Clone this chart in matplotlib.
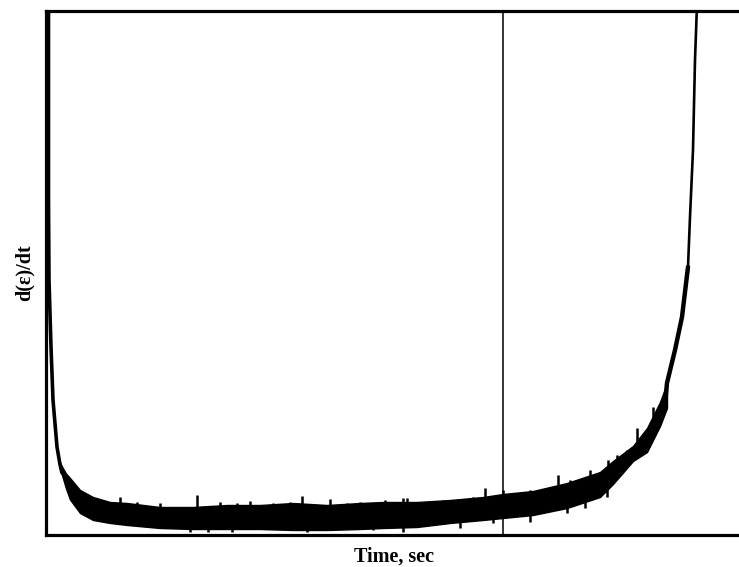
import numpy as np
import matplotlib
matplotlib.use("Agg")
import matplotlib.pyplot as plt

plt.rcParams["font.family"] = ["Liberation Serif", "DejaVu Serif"]
plt.rcParams["font.weight"] = "bold"

# --- data (time in s, rate in arbitrary units) ---
# primary creep: steep initial drop
t_primary = [2.5, 2.5, 3, 5, 7, 11, 14, 16]
r_primary = [5.30, 3.345, 2.545, 1.875, 1.345, 0.875, 0.70, 0.615]

# secondary / early tertiary: noisy band (upper and lower envelope)
t_band = [14, 17, 20, 24, 34, 47, 64, 81, 114, 147, 181, 214, 247, 281, 314,
          337, 371, 404, 437, 457, 487, 521, 554, 567, 587, 601, 614, 621]
r_band_hi = [0.72, 0.66, 0.61, 0.565, 0.445, 0.375, 0.325, 0.315, 0.275,
             0.275, 0.295, 0.295, 0.315, 0.295, 0.315, 0.325, 0.325, 0.345,
             0.375, 0.405, 0.435, 0.515, 0.625, 0.735, 0.885, 1.065, 1.325,
             1.515]
r_band_lo = [0.66, 0.56, 0.46, 0.35, 0.215, 0.145, 0.115, 0.095, 0.065,
             0.055, 0.055, 0.055, 0.045, 0.045, 0.055, 0.065, 0.075, 0.115,
             0.145, 0.165, 0.195, 0.265, 0.375, 0.505, 0.735, 0.825, 1.085,
             1.265]

# tertiary creep: final run-away (lower, still noisy part and thin top part)
t_tert_low = [619, 621, 629, 636, 642]
r_tert_low = [1.30, 1.515, 1.845, 2.175, 2.675]
t_tert_top = [642, 644, 647, 649, 651]
r_tert_top = [2.675, 3.175, 3.845, 4.745, 5.30]

# visible noise spikes (time, tip value)
t_spike_up = [74, 91, 114, 151, 174, 191, 204, 227, 244, 256, 284, 301, 314,
              339, 357, 361, 397, 427, 439, 457, 484, 512, 524, 544, 562, 571,
              581, 591, 607]
r_spike_up = [0.375, 0.325, 0.315, 0.395, 0.325, 0.315, 0.335, 0.315, 0.325,
              0.385, 0.355, 0.315, 0.325, 0.345, 0.365, 0.365, 0.345, 0.375,
              0.465, 0.445, 0.445, 0.595, 0.545, 0.645, 0.745, 0.795, 0.845,
              1.065, 1.275]
t_spike_dn = [144, 162, 186, 261, 327, 357, 414, 447, 484, 521, 539, 561]
r_spike_dn = [0.025, 0.025, 0.025, 0.025, 0.045, 0.025, 0.065, 0.115, 0.125,
              0.215, 0.265, 0.375]

t_marker = 457  # vertical marker line

# --- figure ---
fig = plt.figure(figsize=(7.39, 5.67), dpi=100)
ax = fig.add_axes([46 / 739, 32.5 / 567, 695 / 739, 524 / 567])

ax.plot(t_primary, r_primary, color="black", lw=2.6, solid_capstyle="round")
ax.fill_between(t_band, r_band_lo, r_band_hi, color="black", lw=1.0)
ax.plot(t_tert_low, r_tert_low, color="black", lw=3.2, solid_capstyle="round")
ax.plot(t_tert_top, r_tert_top, color="black", lw=1.9, solid_capstyle="butt")

mid = (np.array(r_band_hi) + np.array(r_band_lo)) / 2
ax.vlines(t_spike_up, np.interp(t_spike_up, t_band, mid), r_spike_up,
          color="black", lw=1.8)
ax.vlines(t_spike_dn, np.interp(t_spike_dn, t_band, mid), r_spike_dn,
          color="black", lw=1.8)

ax.axvline(t_marker, color="black", lw=1.1)

ax.set_xlim(0, 695)
ax.set_ylim(0, 5.24)
ax.set_xticks([])
ax.set_yticks([])
for side in ["left", "top", "bottom"]:
    ax.spines[side].set_linewidth(2.3)
ax.spines["right"].set_visible(False)

ax.set_xlabel("Time, sec", fontsize=14.5, fontweight="bold", labelpad=9)
ax.set_ylabel("d(\u03b5)/dt", fontsize=14.5, fontweight="bold", labelpad=8)

fig.savefig("out.png", dpi=100)
